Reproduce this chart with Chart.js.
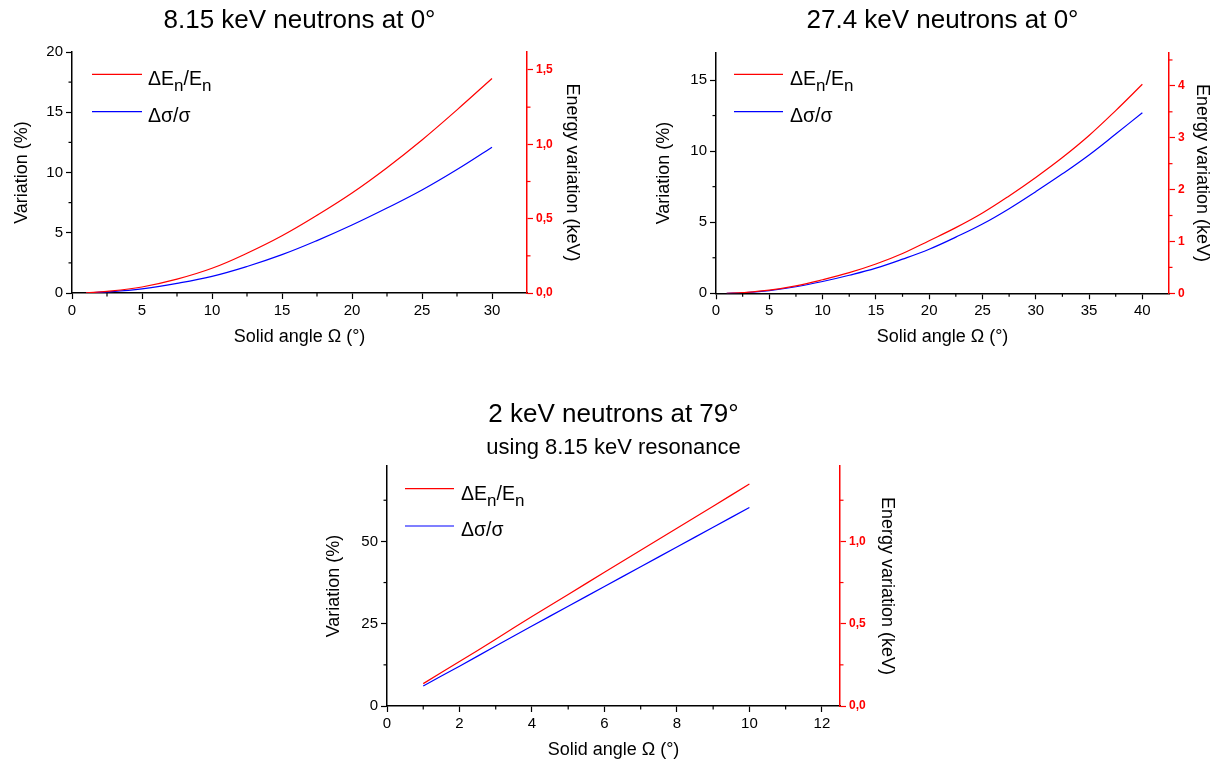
<!DOCTYPE html>
<html><head><meta charset="utf-8">
<script src="https://cdn.jsdelivr.net/npm/chart.js@4.4.1/dist/chart.umd.min.js"></script>
<style>
html,body{margin:0;padding:0;background:#fff;width:1219px;height:763px;overflow:hidden;}
canvas{position:absolute;}
</style></head><body>
<canvas id="c1" width="600" height="350" style="left:0px;top:0px"></canvas>
<canvas id="c2" width="579" height="350" style="left:640px;top:0px"></canvas>
<canvas id="c3" width="600" height="383" style="left:300px;top:380px"></canvas>
<script>
// ---------- data ----------
const omega1 = [1, 2.5, 5, 7.5, 10, 12.5, 15, 17.5, 20, 22.5, 25, 27.5, 30];
const dEn1   = [0.02, 0.13, 0.5, 1.15, 2.05, 3.3, 4.75, 6.45, 8.3, 10.4, 12.7, 15.2, 17.8];
const dSig1  = [0.01, 0.09, 0.35, 0.8, 1.38, 2.2, 3.18, 4.35, 5.64, 7.05, 8.55, 10.25, 12.1];

const omega2 = [1, 2.5, 5, 7.5, 10, 12.5, 15, 17.5, 20, 22.5, 25, 27.5, 30, 32.5, 35, 37.5, 40];
const dEn2   = [0.0, 0.05, 0.22, 0.52, 0.95, 1.45, 2.06, 2.8, 3.7, 4.62, 5.65, 6.85, 8.15, 9.55, 11.1, 12.85, 14.7];
const dSig2  = [0.0, 0.04, 0.19, 0.46, 0.83, 1.27, 1.77, 2.4, 3.1, 3.95, 4.87, 5.95, 7.15, 8.4, 9.73, 11.2, 12.7];

const omega3 = [1, 2, 3, 4, 5, 6, 7, 8, 9, 10];
const dEn3   = [6.8, 13.5, 20.3, 27.2, 33.9, 40.6, 47.3, 54.0, 60.7, 67.4];
const dSig3  = [6.1, 12.1, 18.2, 24.3, 30.3, 36.3, 42.3, 48.3, 54.3, 60.3];

const titles = ['8.15 keV neutrons at 0°', '27.4 keV neutrons at 0°', '2 keV neutrons at 79°'];
const subtitle3 = 'using 8.15 keV resonance';
const xTitle = 'Solid angle Ω (°)';
const yTitle = 'Variation (%)';
const eTitle = 'Energy variation (keV)';

const x1Ticks = [0, 5, 10, 15, 20, 25, 30];
const x1Minor = [2.5, 7.5, 12.5, 17.5, 22.5, 27.5];
const y1Ticks = [0, 5, 10, 15, 20];
const y1Minor = [2.5, 7.5, 12.5, 17.5];
const e1Ticks = [0, 0.5, 1.0, 1.5];
const e1Labels = ['0,0', '0,5', '1,0', '1,5'];
const e1Minor = [0.25, 0.75, 1.25];

const x2Ticks = [0, 5, 10, 15, 20, 25, 30, 35, 40];
const x2Minor = [2.5, 7.5, 12.5, 17.5, 22.5, 27.5, 32.5, 37.5];
const y2Ticks = [0, 5, 10, 15];
const y2Minor = [2.5, 7.5, 12.5];
const e2Ticks = [0, 1, 2, 3, 4];
const e2Labels = ['0', '1', '2', '3', '4'];
const e2Minor = [0.5, 1.5, 2.5, 3.5, 4.5];

const x3Ticks = [0, 2, 4, 6, 8, 10, 12];
const x3Minor = [1, 3, 5, 7, 9, 11];
const y3Ticks = [0, 25, 50];
const y3Minor = [12.5, 37.5, 62.5];
const e3Ticks = [0, 0.5, 1.0];
const e3Labels = ['0,0', '0,5', '1,0'];
const e3Minor = [0.25, 0.75, 1.25];

// ---------- rendering ----------
const FAM = "'Liberation Sans', Arial, Helvetica, sans-serif";
const RED = '#ff0000', BLUE = '#0000ff';

const minorPlugin = {
  id: 'minorTicks',
  afterDraw(chart, args, opts) {
    const ctx = chart.ctx, a = chart.chartArea;
    ctx.save();
    ctx.lineWidth = 1.2;
    const sx = chart.scales.x, sy = chart.scales.y, se = chart.scales.y1;
    ctx.strokeStyle = '#000';
    (opts.x || []).forEach(v => { const p = sx.getPixelForValue(v); ctx.beginPath(); ctx.moveTo(p, a.bottom); ctx.lineTo(p, a.bottom + 3.5); ctx.stroke(); });
    (opts.y || []).forEach(v => { const p = sy.getPixelForValue(v); ctx.beginPath(); ctx.moveTo(a.left, p); ctx.lineTo(a.left - 3.5, p); ctx.stroke(); });
    ctx.strokeStyle = RED;
    (opts.e || []).forEach(v => { const p = se.getPixelForValue(v); ctx.beginPath(); ctx.moveTo(a.right, p); ctx.lineTo(a.right + 3.5, p); ctx.stroke(); });
    ctx.restore();
  }
};

const legendPlugin = {
  id: 'subLegend',
  afterDraw(chart, args, opts) {
    const ctx = chart.ctx, a = chart.chartArea;
    const items = [
      { color: RED, parts: [{t: 'ΔE'}, {t: 'n', sub: true}, {t: '/E'}, {t: 'n', sub: true}] },
      { color: BLUE, parts: [{t: 'Δσ/σ'}] }
    ];
    ctx.save();
    items.forEach((it, i) => {
      const y = a.top + opts.y0 + i * opts.dy;
      ctx.strokeStyle = it.color; ctx.lineWidth = 1.2;
      ctx.beginPath(); ctx.moveTo(a.left + opts.x0, y); ctx.lineTo(a.left + opts.x1, y); ctx.stroke();
      let x = a.left + opts.tx;
      const base = y + 11 - i;
      ctx.fillStyle = '#000'; ctx.textBaseline = 'alphabetic'; ctx.textAlign = 'left';
      it.parts.forEach(p => {
        ctx.font = (p.sub ? '17px ' : '19.5px ') + FAM;
        ctx.fillText(p.t, x, base + (p.sub ? 6 : 0));
        x += ctx.measureText(p.t).width;
      });
    });
    ctx.restore();
  }
};

function makeChart(id, d) {
  const tickSetter = (vals) => (s) => { s.ticks = vals.map(v => ({ value: v })); };
  const plugins = {
    legend: { display: false },
    tooltip: { enabled: false },
    title: {
      display: true, text: d.title, color: '#000', fullSize: false,
      font: { family: FAM, size: 26, weight: 'normal' },
      padding: d.titlePad
    },
    minorTicks: d.minor,
    subLegend: d.legend
  };
  if (d.subtitle) {
    plugins.subtitle = {
      display: true, text: d.subtitle, color: '#000', fullSize: false,
      font: { family: FAM, size: 22, weight: 'normal' },
      padding: d.subPad
    };
  }
  return new Chart(document.getElementById(id), {
    type: 'line',
    data: {
      datasets: [
        { data: d.xs.map((x, i) => ({ x, y: d.red[i] })), borderColor: RED, borderWidth: 1.2, pointRadius: 0, tension: 0.4, fill: false },
        { data: d.xs.map((x, i) => ({ x, y: d.blue[i] })), borderColor: BLUE, borderWidth: 1.2, pointRadius: 0, tension: 0.4, fill: false }
      ]
    },
    options: {
      responsive: false, animation: false, devicePixelRatio: 1,
      layout: { padding: 0 },
      plugins,
      scales: {
        x: {
          type: 'linear', position: 'bottom', min: d.xMin, max: d.xMax,
          afterBuildTicks: tickSetter(d.xTicks),
          afterFit: s => { s.height = d.xH; },
          grid: { drawOnChartArea: false, drawTicks: true, tickLength: 6, tickColor: '#000', tickWidth: 1.2 },
          border: { color: '#000', width: 1.5 },
          ticks: { color: '#000', padding: 3, maxRotation: 0, autoSkip: false, font: { family: FAM, size: 15 } },
          title: { display: true, text: xTitle, color: '#000', font: { family: FAM, size: 18 }, padding: { top: 2, bottom: 2.5 } }
        },
        y: {
          type: 'linear', position: 'left', min: d.yMin, max: d.yMax,
          afterBuildTicks: tickSetter(d.yTicks),
          afterFit: s => { s.width = d.yW; },
          grid: { drawOnChartArea: false, drawTicks: true, tickLength: 6, tickColor: '#000', tickWidth: 1.2 },
          border: { color: '#000', width: 1.5 },
          ticks: { color: '#000', padding: 3, autoSkip: false, font: { family: FAM, size: 15 } },
          title: { display: true, text: yTitle, color: '#000', font: { family: FAM, size: 18 }, padding: { top: d.yTitlePad, bottom: 0 } }
        },
        y1: {
          type: 'linear', position: 'right', min: 0, max: d.eMax, display: true,
          afterBuildTicks: tickSetter(d.eTicks),
          afterFit: s => { s.width = d.eW; },
          grid: { drawOnChartArea: false, drawTicks: true, tickLength: 6, tickColor: RED, tickWidth: 1.2 },
          border: { color: RED, width: 1.5 },
          ticks: { color: RED, padding: 3, autoSkip: false, font: { family: FAM, size: 12, weight: 'bold' },
                   callback: (v, i) => d.eLabels[i] },
          title: { display: true, text: eTitle, color: '#000', font: { family: FAM, size: 18 }, padding: { top: d.eTitlePad, bottom: 0 } }
        }
      }
    },
    plugins: [minorPlugin, legendPlugin]
  });
}

makeChart('c1', {
  title: titles[0], titlePad: { top: 5, bottom: 15.8 },
  xs: omega1, red: dEn1, blue: dSig1,
  xMin: 0, xMax: 32.5, yMin: 0, yMax: 20, eMax: 1.621,
  xTicks: x1Ticks, yTicks: y1Ticks, eTicks: e1Ticks, eLabels: e1Labels,
  minor: { x: x1Minor, y: y1Minor, e: e1Minor },
  xH: 57, yW: 72, eW: 73, yTitlePad: 11, eTitlePad: 17.7,
  legend: { x0: 20, x1: 70, tx: 76, y0: 22.3, dy: 37.4 }
});

makeChart('c2', {
  title: titles[1], titlePad: { top: 5, bottom: 16.5 },
  xs: omega2, red: dEn2, blue: dSig2,
  xMin: 0, xMax: 42.5, yMin: 0, yMax: 16.92, eMax: 4.64,
  xTicks: x2Ticks, yTicks: y2Ticks, eTicks: e2Ticks, eLabels: e2Labels,
  minor: { x: x2Minor, y: y2Minor, e: e2Minor },
  xH: 56.7, yW: 76, eW: 50, yTitlePad: 13.5, eTitlePad: 5.9,
  legend: { x0: 18, x1: 67, tx: 74, y0: 21.6, dy: 37.4 }
});

makeChart('c3', {
  title: titles[2], titlePad: { top: 19.4, bottom: 2 },
  subtitle: subtitle3, subPad: { top: 2.6, bottom: 4.4 },
  xs: omega3, red: dEn3, blue: dSig3,
  xMin: 0, xMax: 12.5, yMin: 0, yMax: 72.9, eMax: 1.458,
  xTicks: x3Ticks, yTicks: y3Ticks, eTicks: e3Ticks, eLabels: e3Labels,
  minor: { x: x3Minor, y: y3Minor, e: e3Minor },
  xH: 57, yW: 87, eW: 60, yTitlePad: 23.2, eTitlePad: 2.7,
  legend: { x0: 18, x1: 67, tx: 74, y0: 22.7, dy: 37.3 }
});
</script>
</body></html>
